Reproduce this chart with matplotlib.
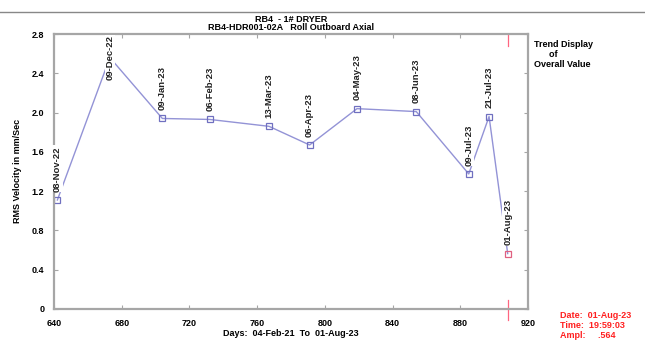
import matplotlib
matplotlib.use("Agg")
import matplotlib.pyplot as plt

plt.rcParams['font.family'] = ['Liberation Sans', 'DejaVu Sans']

dates = ["08-Nov-22", "09-Dec-22", "09-Jan-23", "06-Feb-23", "13-Mar-23", "06-Apr-23",
         "04-May-23", "08-Jun-23", "09-Jul-23", "21-Jul-23", "01-Aug-23"]
days = [642, 673, 704, 732, 767, 791, 819, 854, 885, 897, 908]
rms = [1.11, 2.56, 1.94, 1.93, 1.86, 1.67, 2.04, 2.01, 1.375, 1.96, 0.564]

x_ticks = [640, 680, 720, 760, 800, 840, 880, 920]
y_ticks = [0, 0.4, 0.8, 1.2, 1.6, 2.0, 2.4, 2.8]
y_tick_labels = ["0", "0.4", "0.8", "1.2", "1.6", "2.0", "2.4", "2.8"]

line_col = "#9393d6"
grey = "#a6a6a6"

fig = plt.figure(figsize=(6.45, 3.42), dpi=100)
ax = fig.add_axes([54 / 645, 1 - 309 / 342, 474 / 645, 275 / 342])

ax.plot(days, rms, color=line_col, lw=1.0, zorder=2)
ax.plot(days[:-1], rms[:-1], ls="none", marker="s", ms=4.5, mfc="none",
        mec="#7070c0", mew=0.9, zorder=2)
ax.plot(days[-1:], rms[-1:], ls="none", marker="s", ms=4.5, mfc="none",
        mec="#e06080", mew=0.9, zorder=2)

# date labels above each point
for d, v, s in zip(days, rms, dates):
    if v > 2.3:
        ax.annotate(s, xy=(d, 2.8), xytext=(0, -1), textcoords="offset points",
                    rotation=90, ha="center", va="top", fontsize=6.8, fontweight="bold",
                    color="#222222", bbox=dict(fc="white", ec="none", pad=0.6), zorder=3)
    else:
        ax.annotate(s, xy=(d, v), xytext=(0, 6), textcoords="offset points",
                    rotation=90, ha="center", va="bottom", fontsize=6.8, fontweight="bold",
                    color="#222222", bbox=dict(fc="white", ec="none", pad=0.6), zorder=3)

# red cursor marks at the last reading
ax.plot([days[-1], days[-1]], [2.8, 2.68], color="#ff6680", lw=0.9, clip_on=False)
ax.plot([days[-1], days[-1]], [0.09, -0.11], color="#ff6680", lw=0.9, clip_on=False)

ax.set_xlim(640, 920)
ax.set_ylim(0, 2.8)
ax.set_xticks(x_ticks)
ax.set_yticks(y_ticks)
ax.set_yticklabels(y_tick_labels)
ax.tick_params(direction="in", length=3, width=0.8, color=grey, labelsize=6.5,
               top=True, right=True)
ax.tick_params(axis="x", pad=7)
ax.tick_params(axis="y", pad=7)
for lab in ax.get_xticklabels() + ax.get_yticklabels():
    lab.set_fontweight("bold")
for sp in ax.spines.values():
    sp.set_color(grey)
    sp.set_linewidth(1.6)

fig.text(18 / 645, 1 - 171 / 342, "RMS Velocity in mm/Sec", rotation=90, ha="center",
         va="center", fontsize=6.5, fontweight="bold")
fig.text(291 / 645, 1 - 334 / 342, "Days:  04-Feb-21  To  01-Aug-23", ha="center",
         va="center", fontsize=6.5, fontweight="bold")

fig.text(291 / 645, 1 - 19 / 342, "RB4  - 1# DRYER", ha="center", va="center",
         fontsize=6.5, fontweight="bold")
fig.text(291 / 645, 1 - 28 / 342, "RB4-HDR001-02A   Roll Outboard Axial", ha="center",
         va="center", fontsize=6.5, fontweight="bold")
fig.text(534 / 645, 1 - 40 / 342, "Trend Display\n      of\nOverall Value", ha="left",
         va="top", fontsize=6.5, fontweight="bold", linespacing=1.15)
fig.text(560 / 645, 1 - 311 / 342, "Date:  01-Aug-23\nTime:  19:59:03\nAmpl:     .564",
         ha="left", va="top", fontsize=6.5, fontweight="bold", color="#ff2020",
         linespacing=1.15)

# thin rule along the top of the page
fig.add_artist(plt.Line2D([0, 1], [1 - 12 / 342, 1 - 12 / 342], color="#888888", lw=1.0))

fig.savefig("out.png", dpi=100)
